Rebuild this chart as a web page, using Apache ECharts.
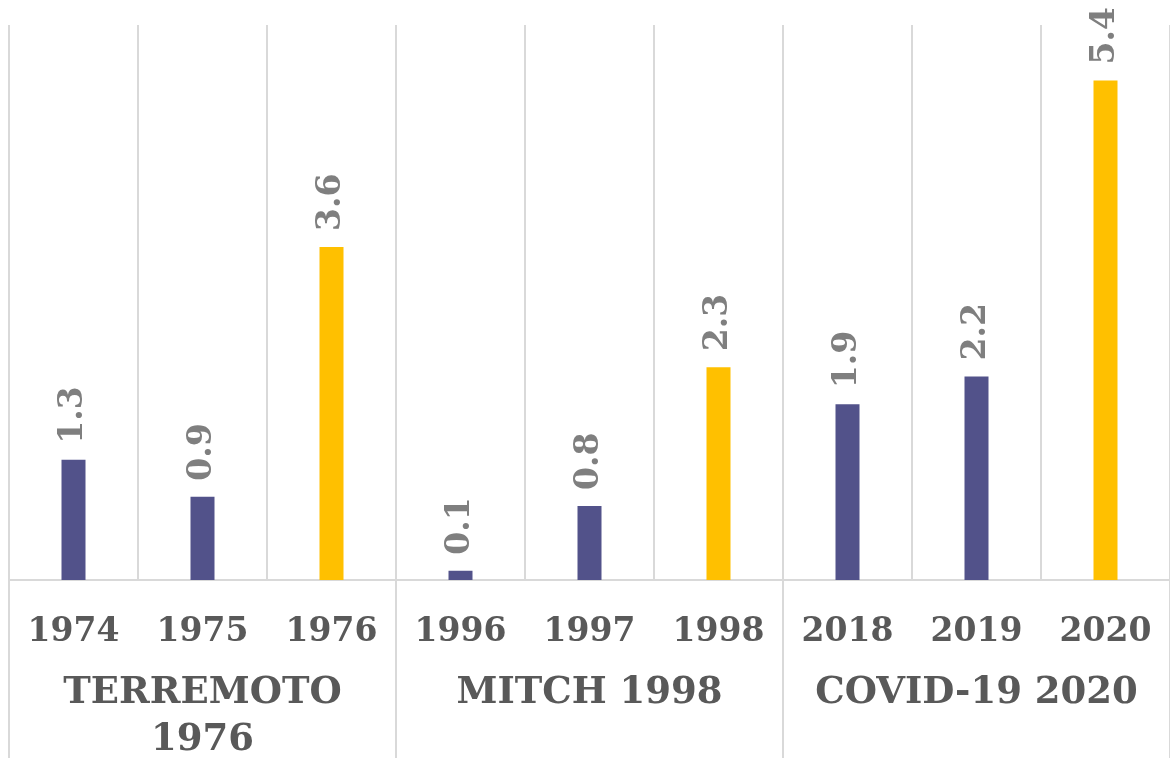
<!DOCTYPE html>
<html>
<head>
<meta charset="utf-8">
<script src="https://cdn.jsdelivr.net/npm/echarts@6/dist/echarts.min.js"></script>
<style>
html,body{margin:0;padding:0;background:#fff;overflow:hidden;}
#chart{width:1170px;height:764px;}
</style>
</head>
<body>
<div id="chart"></div>
<script>
var years = ['1974','1975','1976','1996','1997','1998','2018','2019','2020'];
var groups = ['TERREMOTO\n1976','MITCH 1998','COVID-19 2020'];
var values = [1.3, 0.9, 3.6, 0.1, 0.8, 2.3, 1.9, 2.2, 5.4];
var eventYear = [false, false, true, false, false, true, false, false, true];

var NAVY = '#52528A', GOLD = '#FFC000', GRID = '#D9D9D9';
var FONT = '"DejaVu Serif", Georgia, serif';

var chart = echarts.init(document.getElementById('chart'));
chart.setOption({
  animation: false,
  backgroundColor: '#fff',
  grid: {left: 9, right: 0, top: 25, bottom: 178, containLabel: false},
  xAxis: [{
    type: 'category',
    data: years,
    position: 'bottom',
    axisLine: {show: true, lineStyle: {color: GRID, width: 2}},
    axisTick: {show: false},
    splitLine: {show: true, lineStyle: {color: GRID, width: 2}},
    axisLabel: {
      color: '#595959', fontFamily: FONT, fontWeight: 'bold', fontSize: 33,
      lineHeight: 34, margin: 35, interval: 0
    }
  }, {
    type: 'category',
    data: groups,
    position: 'bottom',
    axisLine: {show: false},
    axisTick: {show: true, length: 178, lineStyle: {color: GRID, width: 2}},
    splitLine: {show: false},
    axisLabel: {
      color: '#595959', fontFamily: FONT, fontWeight: 'bold', fontSize: 37,
      lineHeight: 47, margin: 90, interval: 0
    }
  }],
  yAxis: {
    type: 'value', min: 0, max: 6, show: false,
    splitLine: {show: false}
  },
  series: [{
    type: 'bar',
    xAxisIndex: 0,
    barWidth: 24,
    data: values.map(function (v, i) {
      return {value: v, itemStyle: {color: eventYear[i] ? GOLD : NAVY}};
    }),
    label: {
      show: true, position: 'top', rotate: 90, align: 'left', verticalAlign: 'middle',
      distance: 16, color: '#7F7F7F', fontFamily: FONT, fontWeight: 'bold', fontSize: 33,
      formatter: function (p) { return p.value.toFixed(1); }
    }
  }]
});
</script>
</body>
</html>
